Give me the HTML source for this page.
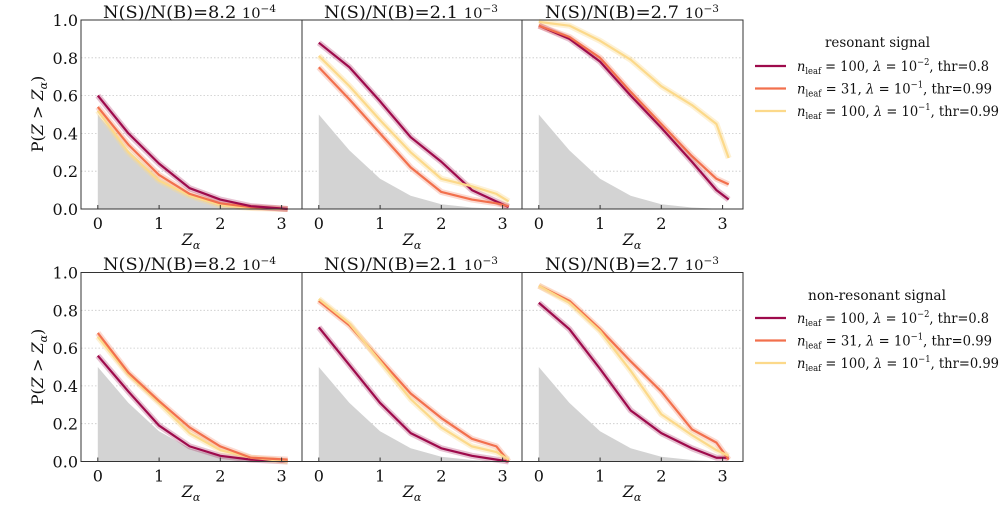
<!DOCTYPE html>
<html><head><meta charset="utf-8"><style>
html,body{margin:0;padding:0;background:#fff}
svg{display:block;font-family:"DejaVu Serif","Liberation Serif",serif}
.d path,.d polyline{fill:none;vector-effect:non-scaling-stroke;stroke-linejoin:round}
.bg{fill:#d3d3d3;stroke:none}
.a{stroke:#9e0b4c;stroke-width:2.2}.b{stroke:#f2704d;stroke-width:2.2}.c{stroke:#fcd98a;stroke-width:2.2}
.ha{stroke:#9e0b4c;stroke-width:6;opacity:.25}.hb{stroke:#f2704d;stroke-width:6;opacity:.25}.hc{stroke:#fcd98a;stroke-width:6;opacity:.35}
.g line{stroke:#c8c8c8;stroke-dasharray:1.5,2;stroke-width:.8}
.fr{fill:none;stroke:#333;stroke-width:1}
.tk line{stroke:#333}
</style></head><body>
<svg width="1005" height="505" viewBox="0 0 1005 505" xmlns="http://www.w3.org/2000/svg">
<g class="g">
<line x1="81" x2="743" y1="171.2" y2="171.2"/><line x1="81" x2="743" y1="133.4" y2="133.4"/><line x1="81" x2="743" y1="95.6" y2="95.6"/><line x1="81" x2="743" y1="57.8" y2="57.8"/>
<line x1="81" x2="743" y1="423.7" y2="423.7"/><line x1="81" x2="743" y1="385.9" y2="385.9"/><line x1="81" x2="743" y1="348.1" y2="348.1"/><line x1="81" x2="743" y1="310.3" y2="310.3"/>
</g>
<defs>
<path id="bgp" d="M0,0 L0,.5 L.5,.31 L1,.16 L1.5,.07 L2,.025 L2.5,.008 L3,0 Z"/>
</defs>
<g class="d" transform="translate(97.8,209) scale(61.25,-189)">
<use href="#bgp" class="bg"/>
<polyline class="hc" points="0,.52 .5,.30 1,.15 1.5,.07 2,.02 2.5,.005 3.1,0"/>
<polyline class="hb" points="0,.54 .5,.34 1,.18 1.5,.08 2,.03 2.5,.01 3.1,0"/>
<polyline class="ha" points="0,.6 .5,.4 1,.24 1.5,.11 2,.05 2.5,.015 3.1,0"/>
<polyline class="c" points="0,.52 .5,.30 1,.15 1.5,.07 2,.02 2.5,.005 3.1,0"/>
<polyline class="b" points="0,.54 .5,.34 1,.18 1.5,.08 2,.03 2.5,.01 3.1,0"/>
<polyline class="a" points="0,.6 .5,.4 1,.24 1.5,.11 2,.05 2.5,.015 3.1,0"/>
</g>
<g class="d" transform="translate(318.8,209) scale(61.25,-189)">
<use href="#bgp" class="bg"/>
<polyline class="ha" points="0,.88 .5,.75 1,.57 1.5,.38 2,.25 2.5,.10 2.9,.04 3.1,.01"/>
<polyline class="hb" points="0,.75 .5,.58 1,.40 1.5,.22 2,.09 2.5,.05 2.9,.03 3.1,.015"/>
<polyline class="hc" points="0,.81 .5,.65 1,.47 1.5,.30 2,.16 2.5,.12 2.9,.08 3.1,.04"/>
<polyline class="a" points="0,.88 .5,.75 1,.57 1.5,.38 2,.25 2.5,.10 2.9,.04 3.1,.01"/>
<polyline class="b" points="0,.75 .5,.58 1,.40 1.5,.22 2,.09 2.5,.05 2.9,.03 3.1,.015"/>
<polyline class="c" points="0,.81 .5,.65 1,.47 1.5,.30 2,.16 2.5,.12 2.9,.08 3.1,.04"/>
</g>
<g class="d" transform="translate(538.8,209) scale(61.25,-189)">
<use href="#bgp" class="bg"/>
<polyline class="hc" points="0,.99 .5,.97 1,.89 1.5,.79 2,.65 2.5,.55 2.9,.45 3.1,.27"/>
<polyline class="ha" points="0,.97 .5,.9 1,.78 1.5,.6 2,.43 2.5,.25 2.9,.1 3.1,.05"/>
<polyline class="hb" points="0,.97 .5,.91 1,.8 1.5,.62 2,.45 2.5,.28 2.9,.16 3.1,.13"/>
<polyline class="c" points="0,.99 .5,.97 1,.89 1.5,.79 2,.65 2.5,.55 2.9,.45 3.1,.27"/>
<polyline class="a" points="0,.97 .5,.9 1,.78 1.5,.6 2,.43 2.5,.25 2.9,.1 3.1,.05"/>
<polyline class="b" points="0,.97 .5,.91 1,.8 1.5,.62 2,.45 2.5,.28 2.9,.16 3.1,.13"/>
</g>
<g class="d" transform="translate(97.8,461.5) scale(61.25,-189)">
<use href="#bgp" class="bg"/>
<polyline class="ha" points="0,.56 .5,.37 1,.19 1.5,.08 2,.03 2.5,.01 3.1,0"/>
<polyline class="hc" points="0,.66 .5,.46 1,.31 1.5,.15 2,.06 2.5,.02 3.1,0"/>
<polyline class="hb" points="0,.68 .5,.47 1,.32 1.5,.18 2,.08 2.5,.02 3.1,.01"/>
<polyline class="a" points="0,.56 .5,.37 1,.19 1.5,.08 2,.03 2.5,.01 3.1,0"/>
<polyline class="c" points="0,.66 .5,.46 1,.31 1.5,.15 2,.06 2.5,.02 3.1,0"/>
<polyline class="b" points="0,.68 .5,.47 1,.32 1.5,.18 2,.08 2.5,.02 3.1,.01"/>
</g>
<g class="d" transform="translate(318.8,461.5) scale(61.25,-189)">
<use href="#bgp" class="bg"/>
<polyline class="ha" points="0,.71 .5,.51 1,.31 1.5,.15 2,.07 2.5,.03 2.9,.01 3.1,0"/>
<polyline class="hb" points="0,.85 .5,.72 1,.54 1.5,.36 2,.23 2.5,.12 2.9,.08 3.1,0"/>
<polyline class="hc" points="0,.86 .5,.73 1,.53 1.5,.33 2,.18 2.5,.08 2.9,.05 3.1,.01"/>
<polyline class="a" points="0,.71 .5,.51 1,.31 1.5,.15 2,.07 2.5,.03 2.9,.01 3.1,0"/>
<polyline class="b" points="0,.85 .5,.72 1,.54 1.5,.36 2,.23 2.5,.12 2.9,.08 3.1,0"/>
<polyline class="c" points="0,.86 .5,.73 1,.53 1.5,.33 2,.18 2.5,.08 2.9,.05 3.1,.01"/>
</g>
<g class="d" transform="translate(538.8,461.5) scale(61.25,-189)">
<use href="#bgp" class="bg"/>
<polyline class="ha" points="0,.84 .5,.70 1,.49 1.5,.27 2,.15 2.5,.07 2.9,.02 3.1,.02"/>
<polyline class="hb" points="0,.93 .5,.85 1,.70 1.5,.53 2,.37 2.5,.17 2.9,.1 3.1,.01"/>
<polyline class="hc" points="0,.93 .5,.84 1,.69 1.5,.48 2,.25 2.5,.14 2.9,.06 3.1,.03"/>
<polyline class="a" points="0,.84 .5,.70 1,.49 1.5,.27 2,.15 2.5,.07 2.9,.02 3.1,.02"/>
<polyline class="b" points="0,.93 .5,.85 1,.70 1.5,.53 2,.37 2.5,.17 2.9,.1 3.1,.01"/>
<polyline class="c" points="0,.93 .5,.84 1,.69 1.5,.48 2,.25 2.5,.14 2.9,.06 3.1,.03"/>
</g>
<rect class="fr" x="81" y="20" width="662" height="189"/>
<line x1="302" x2="302" y1="20" y2="209" stroke="#333"/><line x1="522" x2="522" y1="20" y2="209" stroke="#333"/>
<rect class="fr" x="81" y="272.5" width="662" height="189"/>
<line x1="302" x2="302" y1="272.5" y2="461.5" stroke="#333"/><line x1="522" x2="522" y1="272.5" y2="461.5" stroke="#333"/>
<g class="tk">
<line x1="97.8" x2="97.8" y1="205" y2="209"/><line x1="159.1" x2="159.1" y1="205" y2="209"/><line x1="220.3" x2="220.3" y1="205" y2="209"/><line x1="281.6" x2="281.6" y1="205" y2="209"/>
<line x1="318.8" x2="318.8" y1="205" y2="209"/><line x1="380.1" x2="380.1" y1="205" y2="209"/><line x1="441.3" x2="441.3" y1="205" y2="209"/><line x1="502.6" x2="502.6" y1="205" y2="209"/>
<line x1="538.8" x2="538.8" y1="205" y2="209"/><line x1="600.1" x2="600.1" y1="205" y2="209"/><line x1="661.3" x2="661.3" y1="205" y2="209"/><line x1="722.6" x2="722.6" y1="205" y2="209"/>
<line x1="97.8" x2="97.8" y1="457.5" y2="461.5"/><line x1="159.1" x2="159.1" y1="457.5" y2="461.5"/><line x1="220.3" x2="220.3" y1="457.5" y2="461.5"/><line x1="281.6" x2="281.6" y1="457.5" y2="461.5"/>
<line x1="318.8" x2="318.8" y1="457.5" y2="461.5"/><line x1="380.1" x2="380.1" y1="457.5" y2="461.5"/><line x1="441.3" x2="441.3" y1="457.5" y2="461.5"/><line x1="502.6" x2="502.6" y1="457.5" y2="461.5"/>
<line x1="538.8" x2="538.8" y1="457.5" y2="461.5"/><line x1="600.1" x2="600.1" y1="457.5" y2="461.5"/><line x1="661.3" x2="661.3" y1="457.5" y2="461.5"/><line x1="722.6" x2="722.6" y1="457.5" y2="461.5"/>
</g>
<g font-size="16" fill="#111" text-anchor="middle">
<text x="97.8" y="229">0</text><text x="159.1" y="229">1</text><text x="220.3" y="229">2</text><text x="281.6" y="229">3</text>
<text x="318.8" y="229">0</text><text x="380.1" y="229">1</text><text x="441.3" y="229">2</text><text x="502.6" y="229">3</text>
<text x="538.8" y="229">0</text><text x="600.1" y="229">1</text><text x="661.3" y="229">2</text><text x="722.6" y="229">3</text>
<text x="97.8" y="481.5">0</text><text x="159.1" y="481.5">1</text><text x="220.3" y="481.5">2</text><text x="281.6" y="481.5">3</text>
<text x="318.8" y="481.5">0</text><text x="380.1" y="481.5">1</text><text x="441.3" y="481.5">2</text><text x="502.6" y="481.5">3</text>
<text x="538.8" y="481.5">0</text><text x="600.1" y="481.5">1</text><text x="661.3" y="481.5">2</text><text x="722.6" y="481.5">3</text>
<g font-style="italic">
<text x="191" y="245">Z<tspan font-size="11" dy="4">α</tspan></text>
<text x="412" y="245">Z<tspan font-size="11" dy="4">α</tspan></text>
<text x="632" y="245">Z<tspan font-size="11" dy="4">α</tspan></text>
<text x="191" y="497">Z<tspan font-size="11" dy="4">α</tspan></text>
<text x="412" y="497">Z<tspan font-size="11" dy="4">α</tspan></text>
<text x="632" y="497">Z<tspan font-size="11" dy="4">α</tspan></text>
</g>
</g>
<g font-size="16" fill="#111" text-anchor="end">
<text x="78" y="215">0.0</text><text x="78" y="177.2">0.2</text><text x="78" y="139.4">0.4</text><text x="78" y="101.6">0.6</text><text x="78" y="63.8">0.8</text><text x="78" y="26">1.0</text>
<text x="78" y="467.5">0.0</text><text x="78" y="429.7">0.2</text><text x="78" y="391.9">0.4</text><text x="78" y="354.1">0.6</text><text x="78" y="316.3">0.8</text><text x="78" y="278.5">1.0</text>
</g>
<g font-size="17" fill="#111">
<text x="103" y="18" textLength="173" lengthAdjust="spacingAndGlyphs">N(S)/N(B)=8.2 <tspan font-size="14">10</tspan><tspan font-size="10" dy="-6">−4</tspan></text>
<text x="324" y="18" textLength="174" lengthAdjust="spacingAndGlyphs">N(S)/N(B)=2.1 <tspan font-size="14">10</tspan><tspan font-size="10" dy="-6">−3</tspan></text>
<text x="545" y="18" textLength="174" lengthAdjust="spacingAndGlyphs">N(S)/N(B)=2.7 <tspan font-size="14">10</tspan><tspan font-size="10" dy="-6">−3</tspan></text>
<text x="103" y="270" textLength="173" lengthAdjust="spacingAndGlyphs">N(S)/N(B)=8.2 <tspan font-size="14">10</tspan><tspan font-size="10" dy="-6">−4</tspan></text>
<text x="324" y="270" textLength="174" lengthAdjust="spacingAndGlyphs">N(S)/N(B)=2.1 <tspan font-size="14">10</tspan><tspan font-size="10" dy="-6">−3</tspan></text>
<text x="545" y="270" textLength="174" lengthAdjust="spacingAndGlyphs">N(S)/N(B)=2.7 <tspan font-size="14">10</tspan><tspan font-size="10" dy="-6">−3</tspan></text>
</g>
<g font-size="16" fill="#111" text-anchor="middle">
<text transform="translate(43,114) rotate(-90)">P(<tspan font-style="italic">Z</tspan> &gt; <tspan font-style="italic">Z</tspan><tspan font-size="11" dy="4" font-style="italic">α</tspan><tspan dy="-4">)</tspan></text>
<text transform="translate(43,367) rotate(-90)">P(<tspan font-style="italic">Z</tspan> &gt; <tspan font-style="italic">Z</tspan><tspan font-size="11" dy="4" font-style="italic">α</tspan><tspan dy="-4">)</tspan></text>
</g>
<g font-size="14" fill="#111">
<text x="825" y="47" textLength="105" lengthAdjust="spacingAndGlyphs">resonant signal</text>
<line x1="755" x2="786" y1="66" y2="66" stroke="#9e0b4c" stroke-width="2.2"/>
<line x1="755" x2="786" y1="88.5" y2="88.5" stroke="#f2704d" stroke-width="2.2"/>
<line x1="755" x2="786" y1="111" y2="111" stroke="#fcd98a" stroke-width="2.2"/>
<text x="797" y="71" textLength="192" lengthAdjust="spacingAndGlyphs"><tspan font-style="italic">n</tspan><tspan font-size="9" dy="3">leaf</tspan><tspan dy="-3"> = 100, </tspan><tspan font-style="italic">λ</tspan> = 10<tspan font-size="9" dy="-6">−2</tspan><tspan dy="6">, thr=0.8</tspan></text>
<text x="797" y="93.5" textLength="195" lengthAdjust="spacingAndGlyphs"><tspan font-style="italic">n</tspan><tspan font-size="9" dy="3">leaf</tspan><tspan dy="-3"> = 31, </tspan><tspan font-style="italic">λ</tspan> = 10<tspan font-size="9" dy="-6">−1</tspan><tspan dy="6">, thr=0.99</tspan></text>
<text x="797" y="116" textLength="202" lengthAdjust="spacingAndGlyphs"><tspan font-style="italic">n</tspan><tspan font-size="9" dy="3">leaf</tspan><tspan dy="-3"> = 100, </tspan><tspan font-style="italic">λ</tspan> = 10<tspan font-size="9" dy="-6">−1</tspan><tspan dy="6">, thr=0.99</tspan></text>
<text x="808" y="300" textLength="138" lengthAdjust="spacingAndGlyphs">non-resonant signal</text>
<line x1="755" x2="786" y1="318" y2="318" stroke="#9e0b4c" stroke-width="2.2"/>
<line x1="755" x2="786" y1="340.5" y2="340.5" stroke="#f2704d" stroke-width="2.2"/>
<line x1="755" x2="786" y1="363" y2="363" stroke="#fcd98a" stroke-width="2.2"/>
<text x="797" y="323" textLength="192" lengthAdjust="spacingAndGlyphs"><tspan font-style="italic">n</tspan><tspan font-size="9" dy="3">leaf</tspan><tspan dy="-3"> = 100, </tspan><tspan font-style="italic">λ</tspan> = 10<tspan font-size="9" dy="-6">−2</tspan><tspan dy="6">, thr=0.8</tspan></text>
<text x="797" y="345.5" textLength="195" lengthAdjust="spacingAndGlyphs"><tspan font-style="italic">n</tspan><tspan font-size="9" dy="3">leaf</tspan><tspan dy="-3"> = 31, </tspan><tspan font-style="italic">λ</tspan> = 10<tspan font-size="9" dy="-6">−1</tspan><tspan dy="6">, thr=0.99</tspan></text>
<text x="797" y="368" textLength="202" lengthAdjust="spacingAndGlyphs"><tspan font-style="italic">n</tspan><tspan font-size="9" dy="3">leaf</tspan><tspan dy="-3"> = 100, </tspan><tspan font-style="italic">λ</tspan> = 10<tspan font-size="9" dy="-6">−1</tspan><tspan dy="6">, thr=0.99</tspan></text>
</g>
</svg>
</body></html>
